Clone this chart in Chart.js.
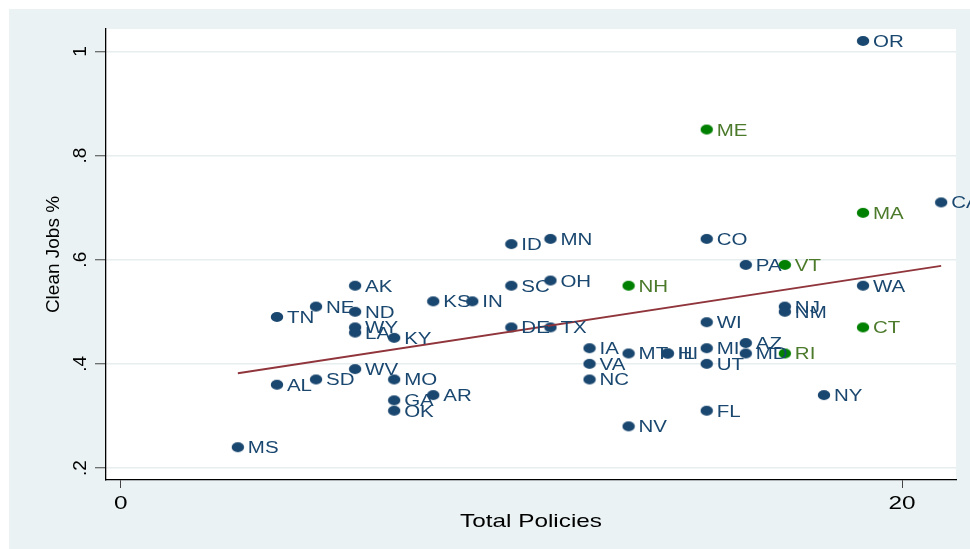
<!DOCTYPE html>
<html>
<head>
<meta charset="utf-8">
<script src="https://cdn.jsdelivr.net/npm/chart.js@4"></script>
<style>
  html, body { margin: 0; padding: 0; background: #fff; }
  #wrap { width: 970px; height: 549px; }
</style>
</head>
<body>
<div id="wrap"><canvas id="cleanChart" width="970" height="549"></canvas></div>
<script>
// state labels, total policies (x) and clean jobs % (y)
const states = ['OR','ME','CA','MA','ID','MN','CO','PA','VT','OH','NH','AK','SC','WA','KS','IN','NE','NJ','ND','NM','TN','WI','WY','DE','TX','CT','LA','KY','AZ','IA','MI','MT','HI','IL','MD','RI','VA','UT','WV','AL','SD','MO','NC','AR','NY','GA','OK','FL','NV','MS'];
const policies = [19,15,21,19,10,11,15,16,17,11,13,6,10,19,8,9,5,17,6,17,4,15,6,10,11,19,6,7,16,12,15,13,14,14,16,17,12,15,6,4,5,7,12,8,18,7,7,15,13,3];
const cleanJobs = [1.02,0.85,0.71,0.69,0.63,0.64,0.64,0.59,0.59,0.56,0.55,0.55,0.55,0.55,0.52,0.52,0.51,0.51,0.50,0.50,0.49,0.48,0.47,0.47,0.47,0.47,0.46,0.45,0.44,0.43,0.43,0.42,0.42,0.42,0.42,0.42,0.40,0.40,0.39,0.36,0.37,0.37,0.37,0.34,0.34,0.33,0.31,0.31,0.28,0.24];
const greenStates = ['ME','NH','VT','MA','CT','RI'];

// fitted line end points
const fitX = [3, 21];
const fitY = [0.382, 0.588];

const xTicks = [0, 20];
const yTicks = [0.2, 0.4, 0.6, 0.8, 1];
const yTickLabels = ['.2', '.4', '.6', '.8', '1'];

const navy = '#1a476f';
const green = '#008000';
const greenText = '#4b7a2b';
const fontFam = '"Liberation Sans", Arial, sans-serif';
const stretch = 1.28; // the original graph is a bit wider than tall

function pts(isGreen) {
    const out = [];
    states.forEach((s, i) => {
        if (greenStates.includes(s) === isGreen) {
            out.push({ x: policies[i], y: cleanJobs[i], label: s });
        }
    });
    return out;
}

// little oval marker, like the stretched dots in the original
function dot(color) {
    const c = document.createElement('canvas');
    c.width = 14; c.height = 12;
    const g = c.getContext('2d');
    g.fillStyle = color;
    g.beginPath();
    g.ellipse(7, 6, 6.2, 5, 0, 0, Math.PI * 2);
    g.fill();
    return c;
}

function wideText(ctx, text, x, y, align) {
    ctx.save();
    ctx.translate(x, y);
    ctx.scale(stretch, 1);
    ctx.textAlign = align;
    ctx.fillText(text, 0, 0);
    ctx.restore();
}

const bgPlugin = {
    id: 'bg',
    beforeDraw(chart) {
        const { ctx, chartArea } = chart;
        ctx.save();
        ctx.fillStyle = '#ffffff';
        ctx.fillRect(0, 0, chart.width, chart.height);
        ctx.fillStyle = '#eaf2f3';
        ctx.fillRect(9, 9, chart.width - 9, chart.height - 9);
        ctx.fillStyle = '#ffffff';
        ctx.fillRect(chartArea.left, chartArea.top, chartArea.right - chartArea.left, chartArea.bottom - chartArea.top);
        ctx.restore();
    }
};

const textPlugin = {
    id: 'wideTexts',
    afterDatasetsDraw(chart) {
        const ctx = chart.ctx;
        const xs = chart.scales.x;
        ctx.save();
        ctx.textBaseline = 'alphabetic';

        // point labels
        ctx.font = '16px ' + fontFam;
        chart.data.datasets.forEach((ds, di) => {
            if (ds.type === 'line') return;
            const meta = chart.getDatasetMeta(di);
            ctx.fillStyle = ds.labelColor;
            meta.data.forEach((el, i) => {
                wideText(ctx, ds.data[i].label, el.x + 10, el.y + 6, 'left');
            });
        });

        // x tick labels and title
        ctx.fillStyle = '#000';
        ctx.font = '19px ' + fontFam;
        xs.ticks.forEach(t => {
            wideText(ctx, String(t.value), xs.getPixelForValue(t.value), xs.top + 29, 'center');
        });
        wideText(ctx, 'Total Policies', (xs.left + xs.right) / 2, xs.top + 47, 'center');
        ctx.restore();
    }
};

new Chart(document.getElementById('cleanChart').getContext('2d'), {
    type: 'scatter',
    data: {
        datasets: [
            {
                type: 'line',
                data: fitX.map((x, i) => ({ x: x, y: fitY[i] })),
                borderColor: '#90353b',
                borderWidth: 1.8,
                pointRadius: 0,
                fill: false,
                order: 0
            },
            {
                data: pts(false),
                pointStyle: dot(navy),
                backgroundColor: navy,
                borderColor: navy,
                labelColor: navy,
                order: 1
            },
            {
                data: pts(true),
                pointStyle: dot(green),
                backgroundColor: green,
                borderColor: green,
                labelColor: greenText,
                order: 1
            }
        ]
    },
    options: {
        responsive: false,
        animation: false,
        layout: { padding: { top: 29, right: 14, left: 0, bottom: 0 } },
        plugins: {
            legend: { display: false },
            tooltip: { enabled: false }
        },
        scales: {
            x: {
                type: 'linear',
                min: -0.375,
                max: 21.38,
                afterFit: s => { s.height = 69; },
                afterBuildTicks: s => { s.ticks = xTicks.map(v => ({ value: v })); },
                ticks: { display: false },
                grid: { drawOnChartArea: false, tickLength: 8, tickColor: '#444', tickWidth: 1 },
                border: { color: '#000', width: 1.3 }
            },
            y: {
                type: 'linear',
                min: 0.177,
                max: 1.043,
                afterFit: s => { s.width = 106; },
                afterBuildTicks: s => { s.ticks = yTicks.map(v => ({ value: v })); },
                ticks: {
                    color: '#000',
                    font: { size: 19, family: fontFam },
                    minRotation: 90,
                    maxRotation: 90,
                    crossAlign: 'center',
                    padding: 6,
                    callback: v => yTickLabels[yTicks.indexOf(v)] || ''
                },
                grid: { color: '#e6eef0', lineWidth: 1.5, tickLength: 11, tickColor: '#444', tickWidth: 1 },
                border: { color: '#000', width: 1.3 },
                title: {
                    display: true,
                    text: 'Clean Jobs %',
                    color: '#000',
                    font: { size: 19, family: fontFam },
                    padding: { top: 42, bottom: 0 }
                }
            }
        }
    },
    plugins: [bgPlugin, textPlugin]
});
</script>
</body>
</html>
